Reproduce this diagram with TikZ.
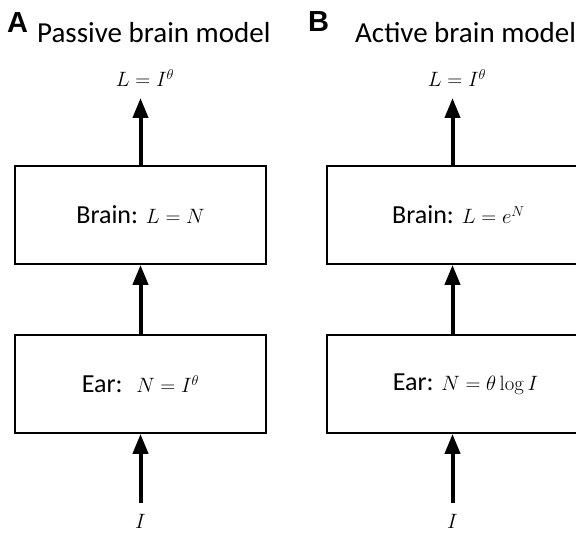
\documentclass[tikz,border=0pt]{standalone}
\usepackage[no-math]{fontspec}
\setmainfont{Carlito}
\newfontfamily\headfont{Liberation Sans}
\usetikzlibrary{arrows.meta}
\newcommand{\mfs}{\fontsize{21}{25}\selectfont}
\begin{document}
\begin{tikzpicture}[x=1pt,y=-1pt,
  box/.style={draw, line width=1.8pt, minimum width=251pt, minimum height=98pt, inner sep=0pt,
    font=\fontsize{26}{30}\selectfont},
  flow/.style={line width=4pt, -{Triangle[width=15pt,length=20pt]}},
  headletter/.style={anchor=base west, inner sep=0pt, font=\headfont\bfseries\fontsize{29}{33}\selectfont},
  headtitle/.style={anchor=base west, inner sep=0pt, font=\fontsize{29}{33}\selectfont},
  mlabel/.style={anchor=base, inner sep=0pt, font=\mfs}]
\useasboundingbox (0,0) rectangle (576,534);

% Panel A
\node[headletter] (letA) at (7,33) {A};
\node[headtitle] (titA) at (37,43) {Passive brain model};
\node[box] (brainA) at (140.5,215) {Brain: {\mfs$L = N$}};
\node[box] (earA) at (140.5,384) {Ear: \ {\mfs$N = I^{\theta}$}};
\node[mlabel] (outA) at (145,87) {$L = I^{\theta}$};
\node[mlabel] (inA) at (140.5,529) {$I$};
\coordinate (topA) at (140.5,98);
\coordinate (botA) at (140.5,503);
\draw[flow] (brainA.north) -- (topA);
\draw[flow] (earA.north) -- (brainA.south);
\draw[flow] (botA) -- (earA.south);

% Panel B
\node[headletter] (letB) at (308,32) {B};
\node[headtitle] (titB) at (355,43) {Active brain model};
\node[box] (brainB) at (452.5,215) {\hspace*{12pt}Brain: {\mfs$L = e^{N}$}};
\node[box] (earB) at (452.5,384) {\hspace*{26pt}Ear: {\mfs$N = \theta\log I$}};
\node[mlabel] (outB) at (457,87) {$L = I^{\theta}$};
\node[mlabel] (inB) at (452.5,529) {$I$};
\coordinate (topB) at (452.5,98);
\coordinate (botB) at (452.5,503);
\draw[flow] (brainB.north) -- (topB);
\draw[flow] (earB.north) -- (brainB.south);
\draw[flow] (botB) -- (earB.south);
\end{tikzpicture}
\end{document}
